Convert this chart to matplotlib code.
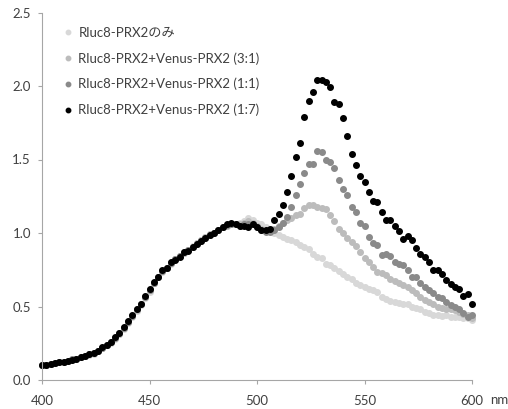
import numpy as np
import matplotlib
matplotlib.use("Agg")
import matplotlib.pyplot as plt

# Wavelength grid (nm), 2 nm steps
wavelength = np.arange(400, 601, 2)

# Rluc8-PRX2 only
rluc_only = [
    0.10, 0.105, 0.11, 0.115, 0.12, 0.125, 0.13, 0.14, 0.145, 0.155,
    0.165, 0.17, 0.18, 0.195, 0.215, 0.235, 0.255, 0.28, 0.31, 0.35,
    0.39, 0.43, 0.47, 0.51, 0.56, 0.60, 0.66, 0.70, 0.735, 0.765,
    0.79, 0.82, 0.845, 0.865, 0.885, 0.91, 0.93, 0.95, 0.97, 0.99,
    1.00, 1.02, 1.04, 1.05, 1.06, 1.06, 1.07, 1.08, 1.10, 1.09,
    1.07, 1.06, 1.04, 1.02, 1.00, 0.985, 0.975, 0.96, 0.95, 0.94,
    0.92, 0.905, 0.89, 0.86, 0.84, 0.83, 0.79, 0.78, 0.76, 0.74,
    0.72, 0.70, 0.685, 0.66, 0.645, 0.635, 0.62, 0.61, 0.60, 0.565,
    0.55, 0.54, 0.53, 0.525, 0.52, 0.515, 0.50, 0.49, 0.48, 0.46,
    0.455, 0.44, 0.44, 0.435, 0.44, 0.43, 0.43, 0.43, 0.42, 0.42,
    0.41,
]

# Rluc8-PRX2 + Venus-PRX2 (3:1)
ratio_3_1 = [
    0.10, 0.105, 0.11, 0.115, 0.12, 0.125, 0.13, 0.135, 0.145, 0.155,
    0.165, 0.175, 0.185, 0.20, 0.22, 0.24, 0.26, 0.285, 0.315, 0.355,
    0.395, 0.435, 0.475, 0.515, 0.565, 0.61, 0.66, 0.70, 0.74, 0.765,
    0.795, 0.82, 0.845, 0.865, 0.885, 0.905, 0.93, 0.95, 0.97, 0.99,
    1.00, 1.02, 1.04, 1.05, 1.06, 1.06, 1.06, 1.07, 1.08, 1.07,
    1.05, 1.03, 1.02, 1.02, 1.03, 1.05, 1.07, 1.09, 1.10, 1.12,
    1.13, 1.17, 1.19, 1.19, 1.18, 1.17, 1.16, 1.12, 1.08, 1.03,
    1.00, 0.965, 0.94, 0.91, 0.87, 0.83, 0.805, 0.77, 0.735, 0.725,
    0.715, 0.69, 0.675, 0.66, 0.645, 0.63, 0.61, 0.59, 0.565, 0.545,
    0.53, 0.515, 0.50, 0.49, 0.48, 0.48, 0.475, 0.46, 0.45, 0.44,
    0.425,
]

# Rluc8-PRX2 + Venus-PRX2 (1:1)
ratio_1_1 = [
    0.10, 0.105, 0.11, 0.115, 0.12, 0.125, 0.13, 0.14, 0.145, 0.155,
    0.165, 0.175, 0.185, 0.20, 0.22, 0.24, 0.26, 0.285, 0.32, 0.355,
    0.395, 0.435, 0.48, 0.52, 0.565, 0.615, 0.66, 0.70, 0.74, 0.765,
    0.795, 0.82, 0.845, 0.87, 0.885, 0.905, 0.925, 0.945, 0.965, 0.985,
    1.00, 1.02, 1.04, 1.055, 1.06, 1.06, 1.05, 1.06, 1.06, 1.06,
    1.04, 1.02, 1.01, 1.01, 1.02, 1.04, 1.07, 1.11, 1.18, 1.26,
    1.33, 1.41, 1.47, 1.47, 1.56, 1.55, 1.50, 1.485, 1.44, 1.36,
    1.30, 1.26, 1.175, 1.145, 1.065, 1.05, 0.975, 0.935, 0.915, 0.85,
    0.86, 0.845, 0.805, 0.79, 0.78, 0.75, 0.70, 0.70, 0.66, 0.63,
    0.61, 0.595, 0.565, 0.555, 0.53, 0.51, 0.50, 0.48, 0.455, 0.43,
    0.44,
]

# Rluc8-PRX2 + Venus-PRX2 (1:7)
ratio_1_7 = [
    0.10, 0.105, 0.11, 0.115, 0.12, 0.125, 0.13, 0.135, 0.145, 0.155,
    0.165, 0.175, 0.185, 0.20, 0.225, 0.24, 0.26, 0.29, 0.32, 0.36,
    0.40, 0.44, 0.48, 0.52, 0.57, 0.62, 0.665, 0.70, 0.745, 0.76,
    0.80, 0.815, 0.84, 0.87, 0.88, 0.905, 0.925, 0.945, 0.965, 0.985,
    1.00, 1.02, 1.04, 1.06, 1.07, 1.06, 1.05, 1.05, 1.04, 1.06,
    1.04, 1.02, 1.02, 1.03, 1.09, 1.13, 1.19, 1.28, 1.39, 1.52,
    1.61, 1.79, 1.90, 1.96, 2.04, 2.04, 2.03, 1.99, 1.89, 1.875,
    1.78, 1.66, 1.54, 1.46, 1.39, 1.35, 1.28, 1.22, 1.21, 1.14,
    1.09, 1.09, 1.05, 1.015, 0.96, 0.98, 0.95, 0.90, 0.86, 0.835,
    0.80, 0.75, 0.75, 0.72, 0.68, 0.65, 0.635, 0.62, 0.57, 0.585,
    0.52,
]

labels = ["Rluc8-PRX2のみ",
          "Rluc8-PRX2+Venus-PRX2 (3:1)",
          "Rluc8-PRX2+Venus-PRX2 (1:1)",
          "Rluc8-PRX2+Venus-PRX2 (1:7)"]
colours = ["#d8d8d8", "#bcbcbc", "#8a8a8a", "#000000"]

plt.rcParams["font.family"] = ["Lato", "Noto Sans CJK JP", "DejaVu Sans"]

fig = plt.figure(figsize=(5.08, 4.09), dpi=100)
ax = fig.add_axes([42/508, 1-380/409, 430/508, 367.5/409])

series = [rluc_only, ratio_3_1, ratio_1_1, ratio_1_7]
for vals, lab, col in zip(series, labels, colours):
    ax.plot(wavelength, vals, "o", ms=4.0, color=col, mec=col, label=lab, clip_on=False)

ax.set_xlim(400, 600)
ax.set_ylim(0, 2.5)
ax.set_xticks([400, 450, 500, 550, 600])
ax.set_yticks(np.arange(0, 2.51, 0.5))
ax.yaxis.set_major_formatter(matplotlib.ticker.FormatStrFormatter("%.1f"))

for s in ["top", "right"]:
    ax.spines[s].set_visible(False)
for s in ["left", "bottom"]:
    ax.spines[s].set_color("#a6a6a6")
    ax.spines[s].set_linewidth(0.8)
ax.tick_params(axis="both", direction="out", length=3, width=0.8, color="#a6a6a6",
               labelsize=9.5, labelcolor="#404040")
ax.tick_params(axis="x", pad=7.5)
ax.tick_params(axis="y", pad=5)

# unit label next to the last x tick
ax.annotate("nm", xy=(600, 0), xycoords="data", xytext=(13, -14.5),
            textcoords="offset points", fontsize=9.5, color="#404040", va="center")

leg = ax.legend(loc="upper left", bbox_to_anchor=(0.04, 0.975), frameon=False,
                numpoints=1, handlelength=0.6, handletextpad=0.45, labelspacing=1.0,
                markerscale=0.8, fontsize=9.5, borderaxespad=0)
for t in leg.get_texts():
    t.set_color("#404040")

plt.savefig("out.png", dpi=100)
